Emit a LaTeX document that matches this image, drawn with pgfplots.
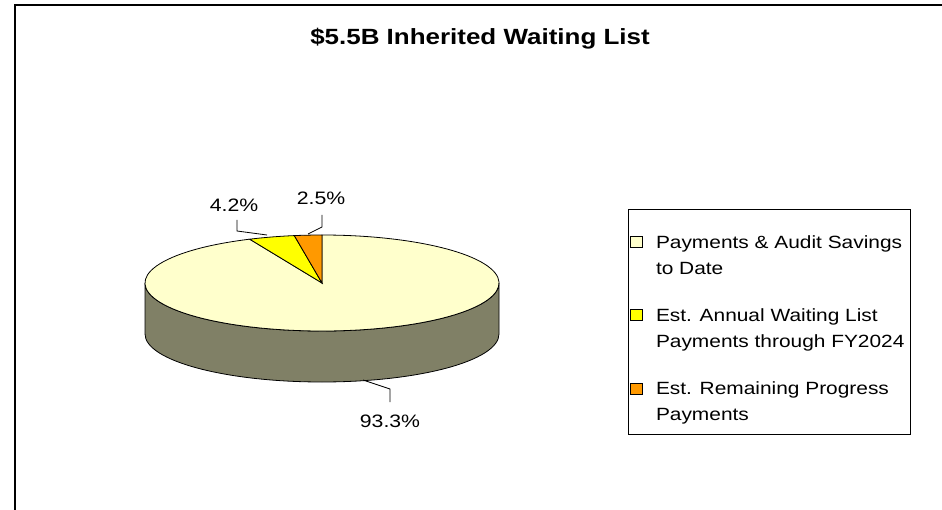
\documentclass[border=0pt]{standalone}
\usepackage{pgfplots}
\pgfplotsset{compat=1.18}
\usepackage{pgfplotstable}
\usepackage{fontspec}
\setmainfont{Liberation Sans}[FakeStretch=1.18]
\definecolor{creamc}{RGB}{255,255,204}
\definecolor{sidec}{RGB}{128,128,102}
\definecolor{yelc}{RGB}{255,255,0}
\definecolor{orac}{RGB}{255,153,0}

\pgfplotstableread{
share
93.3
4.2
2.5
}\piedata

\begin{document}
\begin{tikzpicture}
\pgfplotstablegetelem{0}{share}\of\piedata \let\sA\pgfplotsretval
\pgfplotstablegetelem{1}{share}\of\piedata \let\sB\pgfplotsretval
\pgfplotstablegetelem{2}{share}\of\piedata \let\sC\pgfplotsretval
\pgfmathsetmacro\aO{90}
\pgfmathsetmacro\aC{90+3.6*\sC}
\pgfmathsetmacro\aB{\aC+3.6*\sB}
\pgfmathsetmacro\aA{\aB+3.6*\sA}
\begin{axis}[
 at={(0pt,0pt)}, anchor=south west,
 scale only axis, width=942pt, height=509pt,
 xmin=0, xmax=942, ymin=0, ymax=509,
 hide axis, clip=false,
 legend cell align=left,
 legend style={draw=none, fill=none, at={(axis cs:630,276)}, anchor=north west,
   font=\fontsize{17.7}{26}\selectfont, cells={align=left},
   row sep=29pt, inner sep=0pt, column sep=11pt},
 legend image code/.code={\draw[#1, line width=0.8pt, draw=black] (0pt,8pt) rectangle (12pt,19pt);},
]
% side wall of the pie
\filldraw[fill=sidec, draw=black, line width=0.8pt]
  (axis cs:145,226) -- (axis cs:145,175)
  arc[start angle=180, end angle=360, x radius=177pt, y radius=48pt]
  -- (axis cs:499,226)
  arc[start angle=360, end angle=180, x radius=177pt, y radius=48pt] -- cycle;
% top slices
\filldraw[fill=creamc, draw=black, line width=0.8pt] (axis cs:322,226) -- ++(\aB:177pt and 48pt)
  arc[start angle=\aB, end angle=\aA, x radius=177pt, y radius=48pt] -- cycle;
\filldraw[fill=yelc, draw=black, line width=0.8pt] (axis cs:322,226) -- ++(\aC:177pt and 48pt)
  arc[start angle=\aC, end angle=\aB, x radius=177pt, y radius=48pt] -- cycle;
\filldraw[fill=orac, draw=black, line width=0.8pt] (axis cs:322,226) -- ++(\aO:177pt and 48pt)
  arc[start angle=\aO, end angle=\aC, x radius=177pt, y radius=48pt] -- cycle;
% leader lines and labels
\draw[line width=0.8pt] (axis cs:237,289) -- (axis cs:237,278) -- (axis cs:267,274);
\draw[line width=0.8pt] (axis cs:322,294) -- (axis cs:322,282) -- (axis cs:308,275);
\draw[line width=0.8pt] (axis cs:363,129) -- (axis cs:390,120) -- (axis cs:390,107);
\node[anchor=base, font=\fontsize{18}{20}\selectfont] at (axis cs:234,297) {4.2\%};
\node[anchor=base, font=\fontsize{18}{20}\selectfont] at (axis cs:321,304) {2.5\%};
\node[anchor=base, font=\fontsize{18}{20}\selectfont] at (axis cs:390,82) {93.3\%};
% title
\node[anchor=base, font=\bfseries\fontsize{22}{26}\selectfont] at (axis cs:480,464) {\$5.5B Inherited Waiting List};
% legend frame and chart border
\draw[line width=1pt] (axis cs:628,75) rectangle (axis cs:910,299);
\draw[line width=2pt] (axis cs:15,-5) -- (axis cs:15,504) -- (axis cs:950,504);
\addlegendimage{fill=creamc}
\addlegendentry{Payments \& Audit Savings\\to Date}
\addlegendimage{fill=yelc}
\addlegendentry{Est. Annual Waiting List\\Payments through FY2024}
\addlegendimage{fill=orac}
\addlegendentry{Est. Remaining Progress\\Payments}
\end{axis}
\pgfresetboundingbox
\path (0pt,0pt) rectangle (942pt,509pt);
\end{tikzpicture}
\end{document}
